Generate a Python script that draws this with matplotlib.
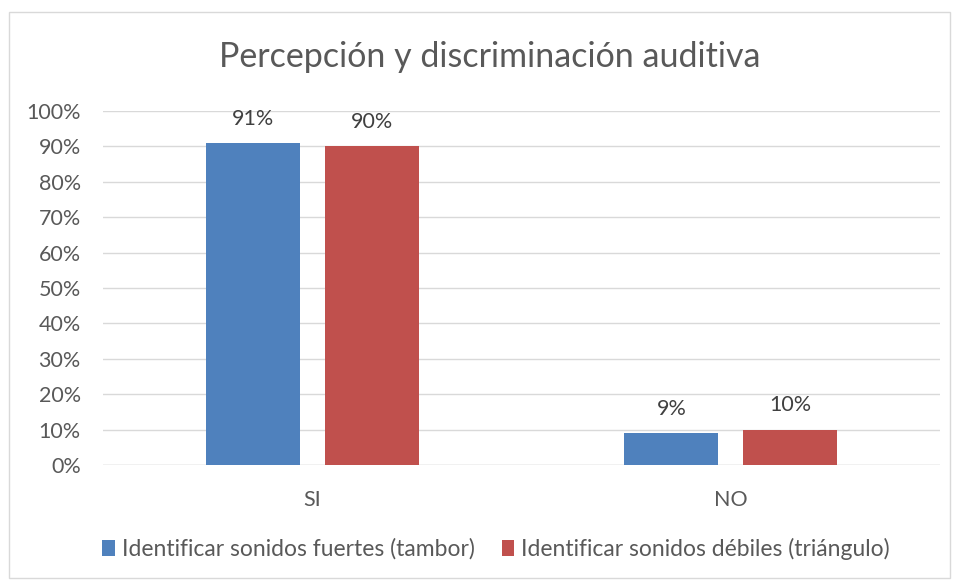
import matplotlib
matplotlib.use("Agg")
import matplotlib.pyplot as plt
from matplotlib.patches import Rectangle
import numpy as np

categories = ["SI", "NO"]
series_names = ["Identificar sonidos fuertes (tambor)", "Identificar sonidos débiles (triángulo)"]
fuertes = [91, 9]
debiles = [90, 10]
colors = ["#4F81BD", "#C0504D"]

plt.rcParams['font.family'] = ['Lato', 'DejaVu Sans']
text_color = "#595959"

fig = plt.figure(figsize=(9.56, 5.81), dpi=100)
fig.patches.append(Rectangle((9/956, 1 - 578/581), 941/956, (578 - 12)/581,
                             transform=fig.transFigure, fill=False,
                             edgecolor="#D9D9D9", linewidth=1.0))
ax = fig.add_axes([103/956, 1 - 465/581, (940 - 103)/956, (465 - 111)/581])

x = np.arange(len(categories))
w = 0.224
off = 0.142
b1 = ax.bar(x - off, fuertes, w, color=colors[0], label=series_names[0], zorder=3)
b2 = ax.bar(x + off, debiles, w, color=colors[1], label=series_names[1], zorder=3)

for bars, vals in ((b1, fuertes), (b2, debiles)):
    for b, v in zip(bars, vals):
        ax.text(b.get_x() + b.get_width() / 2, v + 4, f"{v}%", ha="center", va="bottom",
                fontsize=15.5, color="#404040")

ax.set_xlim(-0.5, 1.5)
ax.set_ylim(0, 100)
ax.set_yticks(range(0, 101, 10))
ax.set_yticklabels([f"{t}%" for t in range(0, 101, 10)])
ax.set_xticks(x)
ax.set_xticklabels(categories)
ax.yaxis.grid(True, color="#D9D9D9", linewidth=1.0, zorder=0)
ax.set_axisbelow(True)
for s in ax.spines.values():
    s.set_visible(False)
ax.axhline(0, color="#D9D9D9", linewidth=1.0, zorder=1)
ax.tick_params(axis="both", length=0, labelsize=15.5, labelcolor=text_color)
ax.tick_params(axis="x", pad=18)
ax.tick_params(axis="y", pad=16)

fig.text(490/956, 1 - 57/581, "Percepción y discriminación auditiva", ha="center", va="center",
         fontsize=24.5, color=text_color)

fig.legend(handles=[b1, b2], labels=series_names, loc="center", bbox_to_anchor=(496/956, 1 - 549/581),
           ncol=2, frameon=False, fontsize=16.5, labelcolor=text_color, handlelength=0.55,
           handleheight=0.7, handletextpad=0.3, columnspacing=1.2)

fig.savefig("out.png", dpi=100)
